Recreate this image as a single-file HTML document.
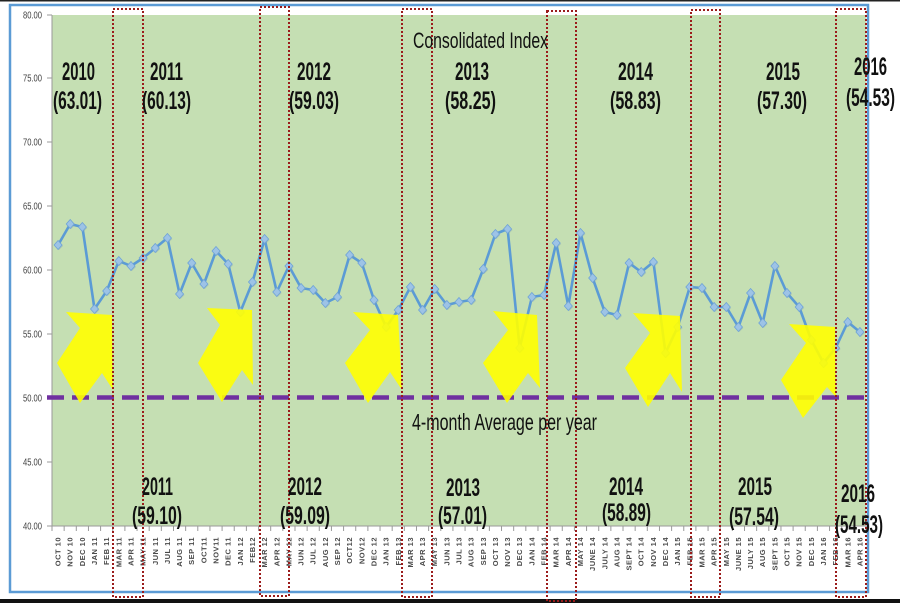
<!DOCTYPE html>
<html><head><meta charset="utf-8"><style>
html,body{margin:0;padding:0;background:#fff;}
svg{display:block;}
text{font-family:"Liberation Sans",Arial,sans-serif;}
</style></head><body>
<svg width="900" height="603" viewBox="0 0 900 603" xmlns="http://www.w3.org/2000/svg">
<rect x="0" y="0" width="900" height="603" fill="#fff"/>
<rect x="0" y="0" width="900" height="1.5" fill="#222"/>
<rect x="0" y="599" width="900" height="4" fill="#111"/>
<!-- outer blue frame -->
<rect x="10" y="5" width="858" height="587" fill="none" stroke="#5B9BD5" stroke-width="2.5"/>
<!-- plot area -->
<rect x="52" y="15" width="814" height="511" fill="#C5DFB3"/>
<!-- axes -->
<line x1="52" y1="15" x2="52" y2="526" stroke="#9a9a9a" stroke-width="1"/>
<line x1="52" y1="526" x2="866" y2="526" stroke="#9a9a9a" stroke-width="1"/>
<g stroke="#9a9a9a" stroke-width="1">
<line x1="47" y1="15" x2="52" y2="15"/><line x1="47" y1="78" x2="52" y2="78"/><line x1="47" y1="142" x2="52" y2="142"/><line x1="47" y1="206" x2="52" y2="206"/><line x1="47" y1="270" x2="52" y2="270"/><line x1="47" y1="334" x2="52" y2="334"/><line x1="47" y1="398" x2="52" y2="398"/><line x1="47" y1="462" x2="52" y2="462"/><line x1="47" y1="526" x2="52" y2="526"/>
</g>
<g font-size="10" fill="#404040" text-anchor="end">
<text x="42" y="18.5" textLength="19" lengthAdjust="spacingAndGlyphs">80.00</text>
<text x="42" y="81.5" textLength="19" lengthAdjust="spacingAndGlyphs">75.00</text>
<text x="42" y="145.5" textLength="19" lengthAdjust="spacingAndGlyphs">70.00</text>
<text x="42" y="209.5" textLength="19" lengthAdjust="spacingAndGlyphs">65.00</text>
<text x="42" y="273.5" textLength="19" lengthAdjust="spacingAndGlyphs">60.00</text>
<text x="42" y="337.5" textLength="19" lengthAdjust="spacingAndGlyphs">55.00</text>
<text x="42" y="401.5" textLength="19" lengthAdjust="spacingAndGlyphs">50.00</text>
<text x="42" y="465.5" textLength="19" lengthAdjust="spacingAndGlyphs">45.00</text>
<text x="42" y="529.5" textLength="19" lengthAdjust="spacingAndGlyphs">40.00</text>
</g>
<g id="xt"></g>
<g id="xl"></g>
<g id="series"></g>
<!-- purple dashed average line -->
<line x1="47" y1="397.5" x2="866" y2="397.5" stroke="#7030A0" stroke-width="4.5" stroke-dasharray="17,8"/>
<!-- yellow arrows -->
<g fill="#FFFF00" fill-opacity="0.9">
<polygon points="66,312 112,315 113,390 102,373 80,403 57,363 80,328"/>
<polygon points="207,308 252,310 253,385 242,370 222,402 198,363 220,325"/>
<polygon points="353,312 398,315 402,390 390,372 368,403 345,363 370,330"/>
<polygon points="493,311 537,315 540,388 528,373 507,403 483,363 508,330"/>
<polygon points="633,313 680,316 682,392 670,373 648,407 625,368 650,333"/>
<polygon points="789,324 835,327 836,397 827,387 803,418 781,380 806,343"/>
</g>
<!-- red dotted rectangles -->
<g fill="none" stroke="#9B1B1B" stroke-width="2" stroke-dasharray="2,2">
<rect x="113" y="9" width="30" height="588"/>
<rect x="260" y="7" width="29" height="589"/>
<rect x="402" y="9" width="30" height="588"/>
<rect x="547" y="11" width="29" height="590"/>
<rect x="691" y="10" width="29" height="587"/>
<rect x="836" y="9" width="30" height="588"/>
</g>
<!-- titles -->
<text x="413" y="48" font-size="22" fill="#111" textLength="135" lengthAdjust="spacingAndGlyphs">Consolidated Index</text>
<text x="412" y="430" font-size="23" fill="#111" textLength="185" lengthAdjust="spacingAndGlyphs">4-month Average per year</text>
<!-- top year labels -->
<g font-size="25" font-weight="bold" fill="#111">
<text x="62" y="80" textLength="33" lengthAdjust="spacingAndGlyphs">2010</text>
<text x="53" y="109" textLength="49" lengthAdjust="spacingAndGlyphs">(63.01)</text>
<text x="150" y="80" textLength="33" lengthAdjust="spacingAndGlyphs">2011</text>
<text x="142" y="109" textLength="49" lengthAdjust="spacingAndGlyphs">(60.13)</text>
<text x="297" y="80" textLength="34" lengthAdjust="spacingAndGlyphs">2012</text>
<text x="289" y="109" textLength="50" lengthAdjust="spacingAndGlyphs">(59.03)</text>
<text x="455" y="80" textLength="34" lengthAdjust="spacingAndGlyphs">2013</text>
<text x="445" y="109" textLength="51" lengthAdjust="spacingAndGlyphs">(58.25)</text>
<text x="618" y="80" textLength="35" lengthAdjust="spacingAndGlyphs">2014</text>
<text x="610" y="109" textLength="51" lengthAdjust="spacingAndGlyphs">(58.83)</text>
<text x="766" y="80" textLength="34" lengthAdjust="spacingAndGlyphs">2015</text>
<text x="757" y="109" textLength="50" lengthAdjust="spacingAndGlyphs">(57.30)</text>
<text x="854" y="75" textLength="33" lengthAdjust="spacingAndGlyphs">2016</text>
<text x="846" y="106" textLength="49" lengthAdjust="spacingAndGlyphs">(54.53)</text>
</g>
<!-- bottom year labels -->
<g font-size="25" font-weight="bold" fill="#111">
<text x="142" y="495" textLength="31" lengthAdjust="spacingAndGlyphs">2011</text>
<text x="132" y="524" textLength="50" lengthAdjust="spacingAndGlyphs">(59.10)</text>
<text x="288" y="495" textLength="34" lengthAdjust="spacingAndGlyphs">2012</text>
<text x="280" y="524" textLength="50" lengthAdjust="spacingAndGlyphs">(59.09)</text>
<text x="446" y="496" textLength="34" lengthAdjust="spacingAndGlyphs">2013</text>
<text x="438" y="524" textLength="49" lengthAdjust="spacingAndGlyphs">(57.01)</text>
<text x="609" y="495" textLength="34" lengthAdjust="spacingAndGlyphs">2014</text>
<text x="602" y="521" textLength="49" lengthAdjust="spacingAndGlyphs">(58.89)</text>
<text x="738" y="495" textLength="34" lengthAdjust="spacingAndGlyphs">2015</text>
<text x="729" y="525" textLength="50" lengthAdjust="spacingAndGlyphs">(57.54)</text>
<text x="841" y="502" textLength="34" lengthAdjust="spacingAndGlyphs">2016</text>
<text x="835" y="533" textLength="48" lengthAdjust="spacingAndGlyphs">(54.53)</text>
</g>
<script>
(function(){
var NS="http://www.w3.org/2000/svg";
var labels=["OCT 10","NOV 10","DEC 10","JAN 11","FEB 11","MAR 11","APR 11","MAY 11","JUN 11","JUL 11","AUG 11","SEP 11","OCT11","NOV11","DEC 11","JAN 12","FEB12","MAR 12","APR 12","MAY 12","JUN 12","JUL 12","AUG 12","SEP 12","OCT12","NOV12","DEC 12","JAN 13","FEB 13","MAR 13","APR 13","MAY 13","JUN 13","JUL 13","AUG 13","SEP 13","OCT 13","NOV 13","DEC 13","JAN 14","FEB 14","MAR 14","APR 14","MAY 14","JUNE 14","JULY 14","AUG 14","SEPT 14","OCT 14","NOV 14","DEC 14","JAN 15","FEB 15","MAR 15","APR 15","MAY 15","JUNE 15","JULY 15","AUG 15","SEPT 15","OCT 15","NOV 15","DEC 15","JAN 16","FEB 16","MAR 16","APR 16"];
var ys=[245,224,227,309,291,261,266,258,248,238,294,263,284,251,264,312,282,239,292,266,288,290,303,297,255,263,300,327,310,287,310,289,305,302,300,269,234,229,348,297,295,243,306,233,278,312,315,263,272,262,353,327,287,288,307,307,327,293,323,266,293,307,340,363,348,322,332];
var w=814/67;
var xt=document.getElementById("xt"),xl=document.getElementById("xl"),se=document.getElementById("series");
for(var i=0;i<=67;i++){var l=document.createElementNS(NS,"line");var x=52+w*i;l.setAttribute("x1",x);l.setAttribute("x2",x);l.setAttribute("y1",526);l.setAttribute("y2",531);l.setAttribute("stroke","#9a9a9a");l.setAttribute("stroke-width","1");xt.appendChild(l);}
for(var i=0;i<67;i++){var x=52+w*(i+0.5);var t=document.createElementNS(NS,"text");t.setAttribute("transform","translate("+(x+2.5).toFixed(1)+",537) rotate(-90)");t.setAttribute("text-anchor","end");t.setAttribute("font-size","7.5");t.setAttribute("font-weight","bold");t.setAttribute("letter-spacing","0.5");t.setAttribute("fill","#4a4a4a");t.textContent=labels[i];xl.appendChild(t);}
var pts=[];for(var i=0;i<67;i++){pts.push((52+w*(i+0.5)).toFixed(1)+","+ys[i]);}
var pl=document.createElementNS(NS,"polyline");pl.setAttribute("points",pts.join(" "));pl.setAttribute("fill","none");pl.setAttribute("stroke","#5B9BD5");pl.setAttribute("stroke-width","2.6");pl.setAttribute("stroke-linejoin","round");se.appendChild(pl);
for(var i=0;i<67;i++){var x=52+w*(i+0.5),y=ys[i];var s=document.createElementNS(NS,"polygon");s.setAttribute("points",(x+1)+","+(y-3)+" "+(x+5)+","+(y+1)+" "+(x+1)+","+(y+5)+" "+(x-3)+","+(y+1));s.setAttribute("fill","#7f9fb8");s.setAttribute("fill-opacity","0.35");se.appendChild(s);
var d=document.createElementNS(NS,"polygon");d.setAttribute("points",x+","+(y-4.5)+" "+(x+4)+","+y+" "+x+","+(y+4.5)+" "+(x-4)+","+y);d.setAttribute("fill","#9DC3E6");d.setAttribute("stroke","#6FA3D6");d.setAttribute("stroke-width","0.8");se.appendChild(d);}
})();
</script>
</svg>
</body></html>
